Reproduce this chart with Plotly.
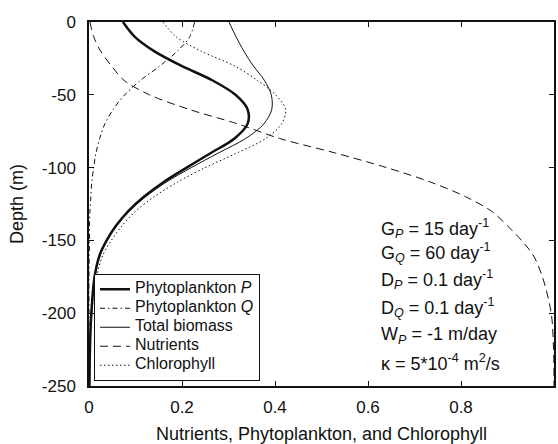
import plotly.graph_objects as go

depth = [0, -10, -20, -30, -40, -50, -60, -70, -80, -90, -100, -110, -120,
         -130, -140, -150, -160, -175, -200, -225, -250]
phyto_p = [0.073, 0.098, 0.14, 0.198, 0.265, 0.315, 0.341, 0.341, 0.313, 0.262,
           0.21, 0.16, 0.118, 0.084, 0.058, 0.038, 0.023, 0.012, 0.005, 0.002, 0.001]
phyto_q = [0.227, 0.217, 0.19, 0.153, 0.111, 0.077, 0.052, 0.034, 0.023, 0.015,
           0.010, 0.006, 0.004, 0.002, 0.001, 0.001, 0.0005, 0.0, 0.0, 0.0, 0.0]
total = [0.301, 0.316, 0.333, 0.353, 0.377, 0.392, 0.393, 0.376, 0.337, 0.278,
         0.22, 0.166, 0.122, 0.086, 0.059, 0.039, 0.023, 0.012, 0.005, 0.002, 0.001]
nutrients = [0.002, 0.01, 0.025, 0.048, 0.075, 0.13, 0.215, 0.32, 0.41, 0.53,
             0.64, 0.735, 0.81, 0.866, 0.9, 0.93, 0.955, 0.975, 0.994, 0.999, 1.0]
chlorophyll = [0.159, 0.187, 0.241, 0.312, 0.362, 0.401, 0.423, 0.414, 0.38, 0.318,
               0.25, 0.19, 0.14, 0.1, 0.071, 0.048, 0.03, 0.016, 0.006, 0.002, 0.001]

x_ticks = [0, 0.2, 0.4, 0.6, 0.8, 1]
x_tick_labels = ["0", "0.2", "0.4", "0.6", "0.8", "1"]
y_ticks = [0, -50, -100, -150, -200, -250]
y_tick_labels = ["0", "-50", "-100", "-150", "-200", "-250"]

params = [
    "G<sub><i>P</i></sub> = 15 day<sup>-1</sup>",
    "G<sub><i>Q</i></sub> = 60 day<sup>-1</sup>",
    "D<sub><i>P</i></sub> = 0.1 day<sup>-1</sup>",
    "D<sub><i>Q</i></sub> = 0.1 day<sup>-1</sup>",
    "W<sub><i>P</i></sub> = -1 m/day",
    "κ = 5*10<sup>-4</sup> m<sup>2</sup>/s",
]
param_depths = [-141.5, -158.5, -177, -196, -215, -234]

FONT = "Liberation Sans, Arial, Helvetica, sans-serif"
INK = "#111111"


def legend_label(s):
    return '<span style="font-size:16px">' + s + "</span>"


fig = go.Figure()
series = [
    ("Phytoplankton <i>P</i>", phyto_p, 2.5, "solid"),
    ("Phytoplankton <i>Q</i>", phyto_q, 1, "5px,3px,1.5px,3px"),
    ("Total biomass", total, 1, "solid"),
    ("Nutrients", nutrients, 1, "8px,5px"),
    ("Chlorophyll", chlorophyll, 1, "1.5px,2.5px"),
]
for name, vals, w, dash in series:
    fig.add_trace(go.Scatter(
        x=vals, y=depth, mode="lines", name=legend_label(name),
        line=dict(color=INK, width=w, dash=dash, shape="spline", smoothing=0.9),
    ))

for txt, d in zip(params, param_depths):
    fig.add_annotation(x=0.623, y=d, xref="x", yref="y", text=txt,
                       showarrow=False, xanchor="left", yanchor="middle",
                       font=dict(size=18, color=INK, family=FONT))

fig.update_layout(
    width=558, height=444,
    margin=dict(l=89, r=2, t=22, b=55),
    paper_bgcolor="white", plot_bgcolor="white",
    font=dict(family=FONT, size=17, color=INK),
    showlegend=True,
    legend=dict(x=0.0107, y=0.0144, xanchor="left", yanchor="bottom",
                bgcolor="white", bordercolor=INK, borderwidth=1,
                font=dict(size=10, color=INK, family=FONT),
                tracegroupgap=0, itemwidth=30),
)
fig.update_xaxes(
    range=[0, 1], tickvals=x_ticks, ticktext=x_tick_labels,
    showline=True, linecolor=INK, linewidth=1.5, mirror="ticks",
    ticks="inside", ticklen=5, tickcolor=INK, showgrid=False, zeroline=False,
    ticklabelstandoff=5,
    title=dict(text="Nutrients, Phytoplankton, and Chlorophyll",
               font=dict(size=18, color=INK), standoff=12),
)
fig.update_yaxes(
    range=[-250, 0], tickvals=y_ticks, ticktext=y_tick_labels,
    showline=True, linecolor=INK, linewidth=1.5, mirror="ticks",
    ticks="inside", ticklen=5, tickcolor=INK, showgrid=False, zeroline=False,
    ticklabelstandoff=8,
    title=dict(text="Depth (m)", font=dict(size=18, color=INK), standoff=14),
)

fig.write_html("out.html")
